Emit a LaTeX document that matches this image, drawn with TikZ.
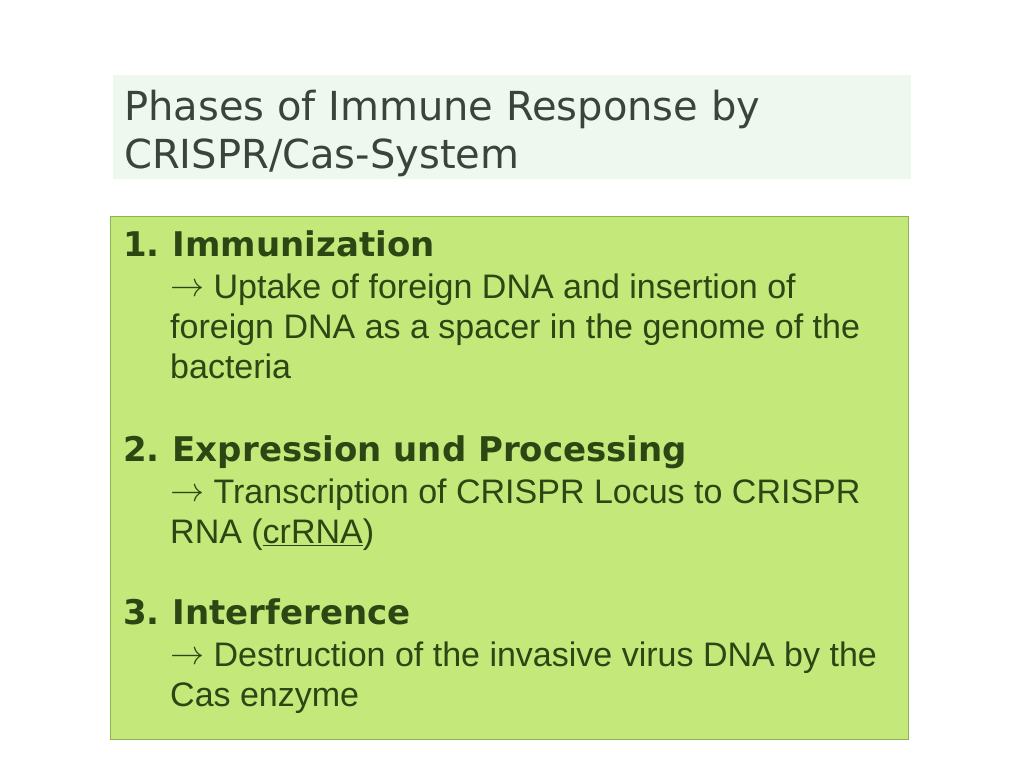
\documentclass[tikz,border=0pt]{standalone}
\usepackage{fontspec}
\setmainfont{Liberation Sans}
\newfontfamily\titlefont{DejaVu Sans}
\newfontfamily\headfont{DejaVu Sans}[BoldFont={DejaVu Sans Bold}]
\newfontfamily\arrowfont{Latin Modern Math}
\definecolor{titlebg}{HTML}{EEF8EE}
\definecolor{titlefg}{HTML}{3A443A}
\definecolor{boxbg}{HTML}{C5E87A}
\definecolor{boxline}{HTML}{8CB254}
\definecolor{textfg}{HTML}{2C4614}
\newcommand\myarrow{\raisebox{2pt}{\arrowfont →}}
\begin{document}
\begin{tikzpicture}[x=1pt,y=-1pt,
  titletext/.style={anchor=base west,inner sep=0pt,text=titlefg,font=\titlefont\fontsize{40}{42}\selectfont},
  headtext/.style={anchor=base west,inner sep=0pt,text=textfg,font=\headfont\bfseries\fontsize{34}{36}\selectfont},
  bodytext/.style={anchor=base west,inner sep=0pt,text=textfg,font=\fontsize{34}{36}\selectfont}]
\useasboundingbox (0,0) rectangle (1024,768);
\fill[white] (0,0) rectangle (1024,768);
\fill[titlebg] (113,75) rectangle (911,179);
\filldraw[fill=boxbg,draw=boxline,line width=1.5pt] (110.5,216.5) rectangle (908.5,739.5);
\node[titletext] (t1) at (124,120) {Phases of Immune Response by};
\node[titletext] (t2) at (124,168) {CRISPR/Cas-System};
\node[headtext] (h1) at (123,256) {1.\hspace{13pt}Immunization};
\node[bodytext] (b11) at (170,298) {\myarrow\ Uptake of foreign DNA and insertion of};
\node[bodytext] (b12) at (170,338) {foreign DNA as a spacer in the genome of the};
\node[bodytext] (b13) at (170,378) {bacteria};
\node[headtext] (h2) at (123,461) {2.\hspace{13pt}Expression und Processing};
\node[bodytext] (b21) at (170,503) {\myarrow\ Transcription of CRISPR Locus to CRISPR};
\node[bodytext] (b22) at (170,543) {RNA (\underline{crRNA})};
\node[headtext] (h3) at (123,624) {3.\hspace{13pt}Interference};
\node[bodytext] (b31) at (170,666) {\myarrow\ Destruction of the invasive virus DNA by the};
\node[bodytext] (b32) at (170,706) {Cas enzyme};
\end{tikzpicture}
\end{document}
